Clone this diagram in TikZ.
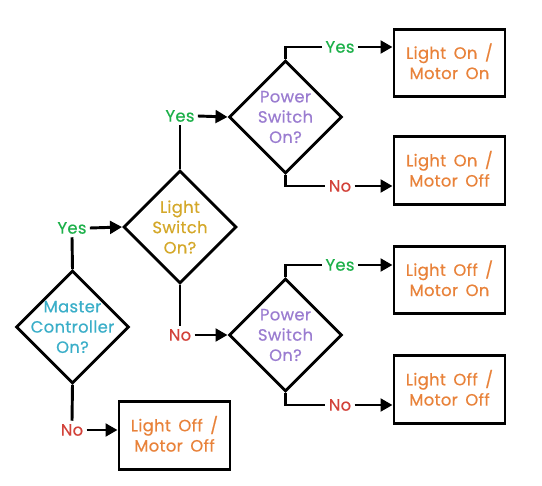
\documentclass[tikz,border=0pt]{standalone}
\usepackage{fontspec}
\setmainfont{Poppins}[LetterSpace=2,WordSpace=1.6,FakeBold=0.6]
\usetikzlibrary{shapes.geometric,arrows.meta}
\definecolor{cyes}{HTML}{1DB04A}
\definecolor{cno}{HTML}{D2423A}
\definecolor{cout}{HTML}{E8823A}
\definecolor{cps}{HTML}{9A7CD0}
\definecolor{cls}{HTML}{D4A82A}
\definecolor{cmc}{HTML}{3AAEC8}
\begin{document}
\begin{tikzpicture}[x=0.75pt,y=-0.75pt,
  line width=2.2pt,
  font=\fontsize{12.3}{15.2}\selectfont,
  dec/.style={diamond,draw,aspect=1,minimum width=84.75pt,minimum height=84.75pt,inner sep=0pt},
  outbox/.style={draw,minimum width=83.25pt,minimum height=50.5pt,inner sep=0pt},
  boxtext/.style={align=center,text=cout,yshift=1.3pt},
  yeslab/.style={text=cyes,inner sep=1.5pt},
  nolab/.style={text=cno,inner sep=1.5pt},
  arr/.style={-{Triangle[length=9pt,width=9.5pt]}},
  ]
\useasboundingbox (0,0) rectangle (542,485);
% decisions
\node[dec,label={[align=center,text=cmc]center:Master\\Controller\\On?}] (mc) at (72.5,327) {};
\node[dec,label={[align=center,text=cls]center:Light\\Switch\\On?}] (ls) at (180,227) {};
\node[dec,label={[align=center,text=cps]center:Power\\Switch\\On?}] (ps1) at (285.5,117) {};
\node[dec,label={[align=center,text=cps]center:Power\\Switch\\On?}] (ps2) at (285.5,335) {};
% outcomes
\node[outbox,label={[boxtext]center:Light On /\\Motor On}] (b1) at (449.5,63) {};
\node[outbox,label={[boxtext]center:Light On /\\Motor Off}] (b2) at (449.5,170.5) {};
\node[outbox,label={[boxtext]center:Light Off /\\Motor On}] (b3) at (449.5,280) {};
\node[outbox,label={[boxtext]center:Light Off /\\Motor Off}] (b4) at (449.5,389.5) {};
\node[outbox,label={[boxtext]center:Light Off /\\Motor Off}] (b5) at (174.5,435.5) {};
% labels
\node[yeslab] (ya) at (72,228) {Yes};
\node[nolab] (na) at (72,430) {No};
\node[yeslab] (yb) at (180,116) {Yes};
\node[nolab] (nb) at (180,335) {No};
\node[yeslab] (yc) at (340,47) {Yes};
\node[nolab] (nc) at (340,186) {No};
\node[yeslab] (yd) at (340,265) {Yes};
\node[nolab] (nd) at (340,405) {No};
% connectors
\draw (mc.north) -- (ya.south);
\draw[arr] (ya.east) -- (ls.west);
\draw (mc.south) -- (na.north);
\draw[arr] (na.east) -- (na.east -| b5.west);
\draw (ls.north) -- (yb.south);
\draw[arr] (yb.east) -- (ps1.west);
\draw (ls.south) -- (nb.north);
\draw[arr] (nb.east) -- (ps2.west);
\draw (ps1.north) |- (yc.west);
\draw[arr] (yc.east) -- (yc.east -| b1.west);
\draw (ps1.south) |- (nc.west);
\draw[arr] (nc.east) -- (nc.east -| b2.west);
\draw (ps2.north) |- (yd.west);
\draw[arr] (yd.east) -- (yd.east -| b3.west);
\draw (ps2.south) |- (nd.west);
\draw[arr] (nd.east) -- (nd.east -| b4.west);
\end{tikzpicture}
\end{document}
